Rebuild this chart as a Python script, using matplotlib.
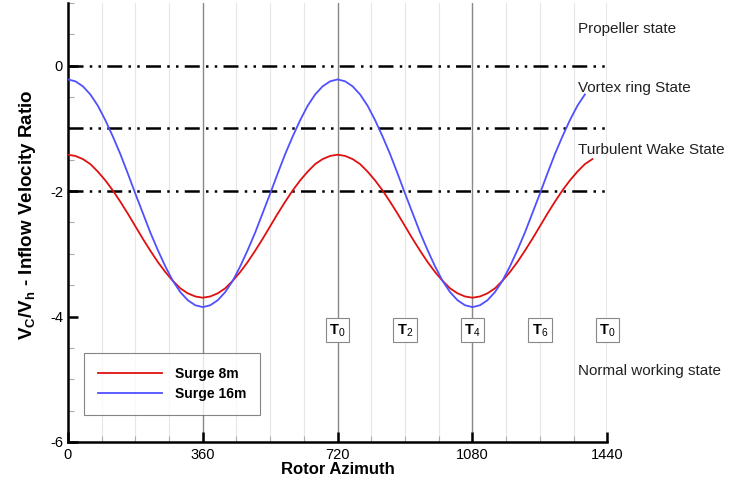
import numpy as np
import matplotlib
matplotlib.use('Agg')
import matplotlib.pyplot as plt
from matplotlib.ticker import MultipleLocator

plt.rcParams['font.family'] = ['Liberation Sans', 'DejaVu Sans']
plt.rcParams['mathtext.fontset'] = 'custom'
plt.rcParams['mathtext.rm'] = 'Liberation Sans'
plt.rcParams['mathtext.bf'] = 'Liberation Sans:bold'
plt.rcParams['axes.unicode_minus'] = False

# datos (cada 20 grados de azimut)
surge8 = [-1.42, -1.44, -1.49, -1.57, -1.69, -1.83, -1.99, -2.17, -2.36, -2.56,
          -2.76, -2.95, -3.13, -3.29, -3.43, -3.55, -3.63, -3.68, -3.70,
          -3.68, -3.63, -3.55, -3.43, -3.29, -3.13, -2.95, -2.76, -2.56,
          -2.36, -2.17, -1.99, -1.83, -1.69, -1.57, -1.49, -1.44, -1.42,
          -1.44, -1.49, -1.57, -1.69, -1.83, -1.99, -2.17, -2.36, -2.56,
          -2.76, -2.95, -3.13, -3.29, -3.43, -3.55, -3.63, -3.68, -3.70,
          -3.68, -3.63, -3.55, -3.43, -3.29, -3.13, -2.95, -2.76, -2.56,
          -2.36, -2.17, -1.99, -1.83, -1.69, -1.57, -1.49]
surge16 = [-0.22, -0.25, -0.33, -0.46, -0.64, -0.87, -1.13, -1.41, -1.72, -2.04,
           -2.35, -2.66, -2.94, -3.20, -3.43, -3.61, -3.74, -3.82, -3.85,
           -3.82, -3.74, -3.61, -3.43, -3.20, -2.94, -2.66, -2.35, -2.04,
           -1.72, -1.41, -1.13, -0.87, -0.64, -0.46, -0.33, -0.25, -0.22,
           -0.25, -0.33, -0.46, -0.64, -0.87, -1.13, -1.41, -1.72, -2.04,
           -2.35, -2.66, -2.94, -3.20, -3.43, -3.61, -3.74, -3.82, -3.85,
           -3.82, -3.74, -3.61, -3.43, -3.20, -2.94, -2.66, -2.35, -2.04,
           -1.72, -1.41, -1.13, -0.87, -0.64, -0.46]
azim8 = np.arange(len(surge8)) * 20
azim16 = np.arange(len(surge16)) * 20

limites = [0, -1, -2]
estados = ['Propeller state', 'Vortex ring State', 'Turbulent Wake State', 'Normal working state']
estados_y = [0.58, -0.35, -1.35, -4.87]
periodos = ['$\\mathbf{T}_0$', '$\\mathbf{T}_2$', '$\\mathbf{T}_4$', '$\\mathbf{T}_6$', '$\\mathbf{T}_0$']
periodos_x = [720, 900, 1080, 1260, 1440]

fig = plt.figure(figsize=(7.3, 4.82), dpi=100)
ax = fig.add_axes([0.093, 0.083, 0.739, 0.911])

for xv in np.arange(90, 1441, 90):
    if xv % 360 == 0:
        ax.axvline(xv, color='#888888', lw=1.0, zorder=1)
    else:
        ax.axvline(xv, color='#e6e6e6', lw=0.8, zorder=0)

for yv in limites:
    ax.plot([0, 1440], [yv, yv], color='black', lw=1.8,
            linestyle=(0, (6, 2.5, 1, 2.5, 1, 2.5)), zorder=2)

ax.plot(azim8, surge8, color='#e01010', lw=1.3, label='Surge 8m', zorder=3)
ax.plot(azim16, surge16, color='#5050ff', lw=1.3, label='Surge 16m', zorder=3)

for t, xv in zip(periodos, periodos_x):
    ax.text(xv, -4.22, t, ha='center', va='center', fontsize=10.5, zorder=4,
            bbox=dict(boxstyle='square,pad=0.25', fc='white', ec='#888888', lw=0.8))

for s, yv in zip(estados, estados_y):
    ax.text(1362, yv, s, ha='left', va='center', fontsize=11, color='#222222',
            clip_on=False)

ax.set_xlim(0, 1440)
ax.set_ylim(-6, 1)
ax.xaxis.set_major_locator(MultipleLocator(360))
ax.xaxis.set_minor_locator(MultipleLocator(90))
ax.yaxis.set_major_locator(MultipleLocator(2))
ax.yaxis.set_minor_locator(MultipleLocator(0.5))
ax.tick_params(which='major', direction='in', length=7, width=1.8, labelsize=10.5)
ax.tick_params(which='minor', direction='in', length=4, width=0.8, color='#aaaaaa')
ax.tick_params(axis='x', pad=4)
ax.spines['top'].set_visible(False)
ax.spines['right'].set_visible(False)
ax.spines['left'].set_linewidth(1.8)
ax.spines['bottom'].set_linewidth(1.8)

ax.set_xlabel('Rotor Azimuth', fontsize=12, fontweight='bold', labelpad=0)
ax.set_ylabel('V$_\\mathbf{C}$/V$_\\mathbf{h}$ - Inflow Velocity Ratio', fontsize=13.5,
              fontweight='bold')
ax.yaxis.set_label_coords(-0.055, 0.517)

leg = ax.legend(loc='lower left', bbox_to_anchor=(0.03, 0.062), frameon=True,
                fancybox=False, edgecolor='#666666', handlelength=4.6,
                prop={'weight': 'bold', 'size': 10}, borderpad=1.0,
                handletextpad=0.95, borderaxespad=0, labelspacing=0.45)
leg.get_frame().set_linewidth(0.8)

plt.savefig('out.png')
